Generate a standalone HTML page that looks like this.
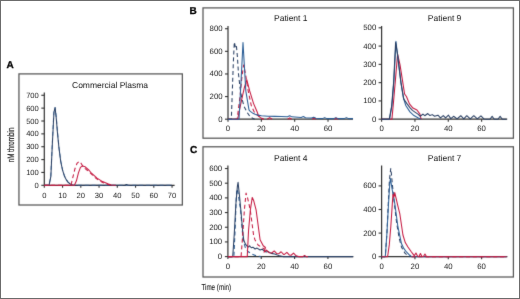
<!DOCTYPE html>
<html><head><meta charset="utf-8"><title>Thrombin generation</title>
<style>html,body{margin:0;padding:0;background:#fff;}body{width:520px;height:299px;position:relative;overflow:hidden;font-family:"Liberation Sans", sans-serif;}</style>
</head><body>
<svg width="520" height="299" viewBox="0 0 520 299" style="position:absolute;left:0;top:0"><defs><filter id="soft" x="0" y="0" width="100%" height="100%" filterUnits="userSpaceOnUse" color-interpolation-filters="sRGB"><feConvolveMatrix order="3" kernelMatrix="0.01 0.08 0.01 0.08 0.64 0.08 0.01 0.08 0.01" divisor="1" edgeMode="duplicate"/></filter><filter id="softt" x="0" y="0" width="520" height="299" filterUnits="userSpaceOnUse" color-interpolation-filters="sRGB"><feConvolveMatrix order="3" kernelMatrix="0.0025 0.045 0.0025 0.045 0.81 0.045 0.0025 0.045 0.0025" divisor="1" edgeMode="none" preserveAlpha="false"/></filter></defs><g filter="url(#soft)"><rect x="0" y="0" width="520" height="299" fill="#fff"/><rect x="18.95" y="73.9" width="163.4" height="131.1" fill="none" stroke="#555" stroke-width="1.25"/><rect x="203.0" y="7.9" width="310.4" height="130.29999999999998" fill="none" stroke="#555" stroke-width="1.25"/><rect x="203.0" y="146.8" width="310.4" height="130.2" fill="none" stroke="#555" stroke-width="1.25"/><line x1="44.30" y1="92.50" x2="44.30" y2="185.30" stroke="#303030" stroke-width="1.2"/><line x1="44.30" y1="185.30" x2="174.60" y2="185.30" stroke="#303030" stroke-width="1.2"/><line x1="41.30" y1="185.30" x2="44.30" y2="185.30" stroke="#303030" stroke-width="1.1"/><line x1="41.30" y1="172.44" x2="44.30" y2="172.44" stroke="#303030" stroke-width="1.1"/><line x1="41.30" y1="159.58" x2="44.30" y2="159.58" stroke="#303030" stroke-width="1.1"/><line x1="41.30" y1="146.72" x2="44.30" y2="146.72" stroke="#303030" stroke-width="1.1"/><line x1="41.30" y1="133.86" x2="44.30" y2="133.86" stroke="#303030" stroke-width="1.1"/><line x1="41.30" y1="121.00" x2="44.30" y2="121.00" stroke="#303030" stroke-width="1.1"/><line x1="41.30" y1="108.14" x2="44.30" y2="108.14" stroke="#303030" stroke-width="1.1"/><line x1="41.30" y1="95.28" x2="44.30" y2="95.28" stroke="#303030" stroke-width="1.1"/><line x1="44.30" y1="185.30" x2="44.30" y2="187.80" stroke="#303030" stroke-width="1.1"/><line x1="62.55" y1="185.30" x2="62.55" y2="187.80" stroke="#303030" stroke-width="1.1"/><line x1="80.80" y1="185.30" x2="80.80" y2="187.80" stroke="#303030" stroke-width="1.1"/><line x1="99.05" y1="185.30" x2="99.05" y2="187.80" stroke="#303030" stroke-width="1.1"/><line x1="117.30" y1="185.30" x2="117.30" y2="187.80" stroke="#303030" stroke-width="1.1"/><line x1="135.55" y1="185.30" x2="135.55" y2="187.80" stroke="#303030" stroke-width="1.1"/><line x1="153.80" y1="185.30" x2="153.80" y2="187.80" stroke="#303030" stroke-width="1.1"/><line x1="172.05" y1="185.30" x2="172.05" y2="187.80" stroke="#303030" stroke-width="1.1"/><path d="M44.30,185.30 L48.86,185.30 L50.69,177.58 L52.15,146.72 L53.79,113.28 L55.07,107.50 L56.16,115.86 L57.44,131.29 L58.90,146.72 L60.72,160.87 L62.55,169.87 L64.38,175.66 L66.20,179.51 L68.02,182.09 L69.85,183.76 L71.67,184.66 L73.50,185.17 L75.32,185.30 L172.05,185.30" fill="none" stroke="#5d8cbc" stroke-width="1.05" stroke-linejoin="round" stroke-dasharray="4,2.8"/><path d="M44.30,185.30 L49.04,185.30 L50.87,176.30 L52.33,144.15 L53.97,112.00 L55.07,107.50 L56.16,117.14 L57.44,132.57 L58.90,147.36 L60.72,161.51 L62.55,170.13 L64.38,175.91 L66.20,179.64 L68.02,182.09 L69.85,183.76 L71.67,184.66 L73.50,185.17 L75.32,185.30 L124.60,185.30 L126.42,184.53 L128.25,185.30 L172.05,185.30" fill="none" stroke="#283e62" stroke-width="1.05" stroke-linejoin="round"/><path d="M44.30,185.30 L70.94,185.30 L72.95,176.81 L74.96,168.71 L76.97,163.44 L79.16,161.51 L81.16,163.44 L83.17,166.78 L85.18,168.71 L89.01,171.80 L91.75,174.37 L95.40,177.84 L98.50,180.16 L102.70,182.47 L106.35,184.01 L110.00,184.91 L113.65,185.30" fill="none" stroke="#c4173f" stroke-width="1.05" stroke-linejoin="round" stroke-dasharray="4,2.8"/><path d="M44.30,185.30 L74.41,185.30 L76.42,180.80 L78.43,172.83 L80.44,167.42 L82.44,165.88 L85.18,166.78 L89.01,170.25 L91.75,173.47 L97.04,178.10 L102.52,181.57 L107.81,183.76 L111.28,184.91 L115.84,185.30" fill="none" stroke="#c4173f" stroke-width="1.05" stroke-linejoin="round"/><line x1="228.00" y1="26.00" x2="228.00" y2="119.20" stroke="#303030" stroke-width="1.2"/><line x1="228.00" y1="119.20" x2="353.00" y2="119.20" stroke="#303030" stroke-width="1.2"/><line x1="225.00" y1="119.20" x2="228.00" y2="119.20" stroke="#303030" stroke-width="1.1"/><line x1="225.00" y1="96.58" x2="228.00" y2="96.58" stroke="#303030" stroke-width="1.1"/><line x1="225.00" y1="73.96" x2="228.00" y2="73.96" stroke="#303030" stroke-width="1.1"/><line x1="225.00" y1="51.34" x2="228.00" y2="51.34" stroke="#303030" stroke-width="1.1"/><line x1="225.00" y1="28.72" x2="228.00" y2="28.72" stroke="#303030" stroke-width="1.1"/><line x1="228.00" y1="119.20" x2="228.00" y2="121.70" stroke="#303030" stroke-width="1.1"/><line x1="261.34" y1="119.20" x2="261.34" y2="121.70" stroke="#303030" stroke-width="1.1"/><line x1="294.68" y1="119.20" x2="294.68" y2="121.70" stroke="#303030" stroke-width="1.1"/><line x1="328.02" y1="119.20" x2="328.02" y2="121.70" stroke="#303030" stroke-width="1.1"/><path d="M228.00,119.20 L237.17,119.20 L240.00,96.58 L242.00,76.22 L243.67,64.91 L245.50,73.96 L248.00,89.79 L251.17,105.18 L253.84,111.28 L256.17,114.22 L258.84,116.37 L261.34,117.84 L263.84,119.20" fill="none" stroke="#c4173f" stroke-width="1.05" stroke-linejoin="round" stroke-dasharray="4,2.8"/><path d="M228.00,119.20 L237.67,119.20 L241.34,101.10 L244.34,87.53 L246.84,79.84 L249.67,90.92 L253.51,103.37 L257.17,111.96 L258.67,116.15 L260.51,117.62 L263.01,119.20" fill="none" stroke="#c4173f" stroke-width="1.05" stroke-linejoin="round"/><path d="M267.17,119.20 L269.68,117.62 L272.18,119.20" fill="none" stroke="#c4173f" stroke-width="1.05" stroke-linejoin="round"/><path d="M287.68,119.20 L289.68,117.84 L291.68,119.20" fill="none" stroke="#c4173f" stroke-width="1.05" stroke-linejoin="round"/><path d="M312.18,119.20 L314.18,118.07 L316.18,119.20" fill="none" stroke="#c4173f" stroke-width="1.05" stroke-linejoin="round"/><path d="M334.35,119.20 L336.36,118.18 L338.36,119.20" fill="none" stroke="#c4173f" stroke-width="1.05" stroke-linejoin="round"/><path d="M228.00,119.20 L231.33,119.20 L232.33,90.92 L233.33,62.65 L234.33,42.07 L235.33,46.82 L236.34,45.12 L237.34,55.86 L238.50,73.96 L240.00,87.53 L241.67,97.71 L244.17,106.65 L247.17,112.41 L250.34,117.16 L254.67,119.20" fill="none" stroke="#283e62" stroke-width="1.05" stroke-linejoin="round" stroke-dasharray="4,2.8"/><path d="M228.00,119.20 L239.00,119.20 L241.00,81.88 L243.00,42.52 L245.84,91.15 L249.00,109.93 L250.00,111.17 L253.00,113.32 L255.51,114.45 L258.01,115.13 L261.34,115.81 L268.01,116.15 L274.68,116.37 L281.34,116.49 L287.51,116.65 L289.68,115.69 L291.85,116.84 L301.18,117.41 L303.35,116.53 L305.52,117.68 L311.52,118.05 L313.68,117.16 L315.85,118.31 L322.52,118.63 L324.69,117.62 L326.85,118.63 L333.69,118.63 L335.85,117.62 L338.02,118.63 L344.19,118.63 L346.36,117.62 L348.52,118.63 L353.02,118.63" fill="none" stroke="#2a5d95" stroke-width="1.05" stroke-linejoin="round"/><line x1="381.60" y1="26.00" x2="381.60" y2="119.20" stroke="#303030" stroke-width="1.2"/><line x1="381.60" y1="119.20" x2="507.20" y2="119.20" stroke="#303030" stroke-width="1.2"/><line x1="378.60" y1="119.20" x2="381.60" y2="119.20" stroke="#303030" stroke-width="1.1"/><line x1="378.60" y1="100.92" x2="381.60" y2="100.92" stroke="#303030" stroke-width="1.1"/><line x1="378.60" y1="82.64" x2="381.60" y2="82.64" stroke="#303030" stroke-width="1.1"/><line x1="378.60" y1="64.36" x2="381.60" y2="64.36" stroke="#303030" stroke-width="1.1"/><line x1="378.60" y1="46.08" x2="381.60" y2="46.08" stroke="#303030" stroke-width="1.1"/><line x1="378.60" y1="27.80" x2="381.60" y2="27.80" stroke="#303030" stroke-width="1.1"/><line x1="381.60" y1="119.20" x2="381.60" y2="121.70" stroke="#303030" stroke-width="1.1"/><line x1="414.94" y1="119.20" x2="414.94" y2="121.70" stroke="#303030" stroke-width="1.1"/><line x1="448.28" y1="119.20" x2="448.28" y2="121.70" stroke="#303030" stroke-width="1.1"/><line x1="481.62" y1="119.20" x2="481.62" y2="121.70" stroke="#303030" stroke-width="1.1"/><path d="M381.60,119.20 L391.94,119.20 L393.60,100.92 L395.44,79.90 L397.60,54.12 L399.94,64.36 L402.44,80.08 L404.60,93.97 L406.44,96.53 L409.44,103.84 L412.94,108.05 L416.94,110.06 L419.94,114.08 L420.94,118.65 L421.61,119.20" fill="none" stroke="#c4173f" stroke-width="1.05" stroke-linejoin="round"/><path d="M381.60,119.20 L389.60,119.20 L391.94,105.31 L393.94,80.08 L395.94,41.33 L397.94,58.88 L400.94,82.64 L403.27,97.26 L405.77,105.49 L409.94,111.89 L413.94,115.54 L417.94,117.74 L420.94,119.20" fill="none" stroke="#2a5d95" stroke-width="1.05" stroke-linejoin="round"/><path d="M381.60,119.20 L389.27,119.20 L391.60,106.40 L393.60,82.64 L395.60,42.42 L397.44,53.39 L400.94,82.64 L403.77,99.09 L407.11,103.84 L410.11,107.87 L412.44,110.43 L414.94,112.07 L417.94,114.08 L420.27,116.28 L422.94,114.08 L424.78,115.73 L427.78,113.53 L429.94,115.54 L432.28,114.63 L434.61,116.28 L437.94,115.18 L440.45,117.92 L443.28,115.54 L445.61,117.92 L448.45,115.18 L450.78,118.65 L453.61,116.28 L457.12,118.83 L460.78,115.73 L463.78,118.83 L466.78,115.73 L470.28,118.83 L473.79,115.73 L477.29,118.83 L480.95,115.91 L484.12,119.02 L486.62,119.20 L489.96,119.20 L492.12,116.28 L494.29,119.20 L497.96,119.20 L500.12,116.28 L502.29,119.20 L506.62,119.20" fill="none" stroke="#283e62" stroke-width="1.05" stroke-linejoin="round"/><line x1="227.90" y1="165.50" x2="227.90" y2="256.60" stroke="#303030" stroke-width="1.2"/><line x1="227.90" y1="256.60" x2="353.40" y2="256.60" stroke="#303030" stroke-width="1.2"/><line x1="224.90" y1="256.60" x2="227.90" y2="256.60" stroke="#303030" stroke-width="1.1"/><line x1="224.90" y1="241.92" x2="227.90" y2="241.92" stroke="#303030" stroke-width="1.1"/><line x1="224.90" y1="227.24" x2="227.90" y2="227.24" stroke="#303030" stroke-width="1.1"/><line x1="224.90" y1="212.56" x2="227.90" y2="212.56" stroke="#303030" stroke-width="1.1"/><line x1="224.90" y1="197.88" x2="227.90" y2="197.88" stroke="#303030" stroke-width="1.1"/><line x1="224.90" y1="183.20" x2="227.90" y2="183.20" stroke="#303030" stroke-width="1.1"/><line x1="224.90" y1="168.52" x2="227.90" y2="168.52" stroke="#303030" stroke-width="1.1"/><line x1="227.90" y1="256.60" x2="227.90" y2="259.10" stroke="#303030" stroke-width="1.1"/><line x1="261.24" y1="256.60" x2="261.24" y2="259.10" stroke="#303030" stroke-width="1.1"/><line x1="294.58" y1="256.60" x2="294.58" y2="259.10" stroke="#303030" stroke-width="1.1"/><line x1="327.92" y1="256.60" x2="327.92" y2="259.10" stroke="#303030" stroke-width="1.1"/><path d="M227.90,256.60 L233.90,256.60 L235.23,227.24 L236.24,197.88 L236.90,189.07 L237.90,192.01 L240.57,209.77 L243.07,239.86 L245.40,247.79 L247.90,251.46 L251.24,253.66 L256.24,255.87 L261.24,256.60" fill="none" stroke="#2a5d95" stroke-width="1.05" stroke-linejoin="round" stroke-dasharray="4,2.8"/><path d="M227.90,256.60 L232.73,256.60 L234.23,234.58 L235.90,203.75 L237.40,186.14 L238.07,182.32 L239.40,194.94 L241.07,212.56 L242.57,230.18 L243.74,240.01 L245.40,244.12 L247.07,246.03 L248.57,247.06 L249.57,245.74 L251.24,247.79 L252.91,247.20 L255.07,248.97 L257.07,248.09 L260.07,249.99 L262.07,249.26 L266.07,252.05 L267.91,251.46 L271.24,253.37 L274.58,253.96 L279.58,255.87 L282.91,256.60 L352.93,256.60" fill="none" stroke="#283e62" stroke-width="1.05" stroke-linejoin="round"/><path d="M227.90,256.60 L241.07,256.60 L242.74,234.58 L244.40,209.62 L246.07,193.04 L247.57,197.88 L250.24,209.77 L253.57,235.02 L254.91,239.72 L258.07,245.00 L261.24,247.06 L264.57,249.26" fill="none" stroke="#c4173f" stroke-width="1.05" stroke-linejoin="round" stroke-dasharray="4,2.8"/><path d="M227.90,256.60 L247.24,256.60 L248.57,230.18 L250.40,209.77 L252.24,197.44 L253.74,200.82 L256.07,209.77 L260.07,239.72 L263.24,245.74 L265.41,247.50 L264.07,252.14 L266.57,250.08 L269.07,252.71 L271.74,253.02 L274.24,250.95 L276.74,253.59 L278.58,253.80 L281.08,251.74 L283.58,254.37 L284.41,254.47 L286.91,252.40 L289.41,255.04 L291.08,255.23 L293.58,253.17 L296.08,255.80 L298.58,256.60 L302.92,256.60 L304.58,255.43 L306.25,256.60 L307.92,256.60" fill="none" stroke="#c4173f" stroke-width="1.05" stroke-linejoin="round"/><line x1="381.60" y1="165.40" x2="381.60" y2="256.70" stroke="#303030" stroke-width="1.2"/><line x1="381.60" y1="256.70" x2="507.40" y2="256.70" stroke="#303030" stroke-width="1.2"/><line x1="378.60" y1="256.70" x2="381.60" y2="256.70" stroke="#303030" stroke-width="1.1"/><line x1="378.60" y1="233.10" x2="381.60" y2="233.10" stroke="#303030" stroke-width="1.1"/><line x1="378.60" y1="209.50" x2="381.60" y2="209.50" stroke="#303030" stroke-width="1.1"/><line x1="378.60" y1="185.90" x2="381.60" y2="185.90" stroke="#303030" stroke-width="1.1"/><line x1="381.60" y1="256.70" x2="381.60" y2="259.20" stroke="#303030" stroke-width="1.1"/><line x1="414.94" y1="256.70" x2="414.94" y2="259.20" stroke="#303030" stroke-width="1.1"/><line x1="448.28" y1="256.70" x2="448.28" y2="259.20" stroke="#303030" stroke-width="1.1"/><line x1="481.62" y1="256.70" x2="481.62" y2="259.20" stroke="#303030" stroke-width="1.1"/><path d="M381.60,256.70 L385.27,256.70 L386.93,233.10 L388.27,203.60 L389.43,180.00 L390.77,168.44 L391.44,174.10 L392.27,183.54 L394.10,201.24 L396.60,222.48 L399.10,237.82 L401.60,247.26 L404.94,253.16 L408.27,256.11 L409.94,256.70" fill="none" stroke="#283e62" stroke-width="1.05" stroke-linejoin="round" stroke-dasharray="4,2.8"/><path d="M381.60,256.70 L384.93,256.70 L385.43,255.28 L386.93,233.10 L388.60,202.42 L389.77,183.54 L390.44,178.47 L391.94,188.26 L394.77,203.48 L397.94,226.96 L401.44,243.60 L403.77,248.44 L406.44,251.98 L409.77,255.28 L411.61,256.70 L506.62,256.70" fill="none" stroke="#2a5d95" stroke-width="1.05" stroke-linejoin="round"/><path d="M381.60,256.70 L387.60,256.70 L389.27,244.90 L390.77,226.96 L392.10,207.14 L392.94,194.16 L393.94,197.11 L394.77,192.63 L395.94,197.70 L397.60,204.78 L399.77,213.51 L402.94,234.99 L405.27,242.54 L407.94,247.02 L411.44,251.98 L413.27,254.34 L414.27,255.76 L415.94,253.04 L417.61,256.23 L418.94,256.46 L420.44,253.51 L421.94,256.46 L423.44,256.46 L424.94,253.99 L426.61,256.70 L506.62,256.70" fill="none" stroke="#c4173f" stroke-width="1.05" stroke-linejoin="round"/><path d="M411.61,256.70 L506.62,256.70" fill="none" stroke="#c4173f" stroke-width="1.05" stroke-linejoin="round" stroke-dasharray="4,2.8"/></g><g filter="url(#softt)" text-rendering="geometricPrecision"><text x="6.60" y="68.20" font-family='"Liberation Sans", sans-serif' font-size="10" font-weight="bold" text-anchor="start" fill="#000" stroke="#000" stroke-width="0.3" >A</text><text x="189.60" y="14.10" font-family='"Liberation Sans", sans-serif' font-size="10" font-weight="bold" text-anchor="start" fill="#000" stroke="#000" stroke-width="0.3" >B</text><text x="189.90" y="153.40" font-family='"Liberation Sans", sans-serif' font-size="10" font-weight="bold" text-anchor="start" fill="#000" stroke="#000" stroke-width="0.3" >C</text><text x="72.00" y="87.70" font-family='"Liberation Sans", sans-serif' font-size="8.5" font-weight="normal" text-anchor="start" fill="#111" >Commercial Plasma</text><text x="274.00" y="20.70" font-family='"Liberation Sans", sans-serif' font-size="8.5" font-weight="normal" text-anchor="start" fill="#111" >Patient 1</text><text x="427.80" y="20.70" font-family='"Liberation Sans", sans-serif' font-size="8.5" font-weight="normal" text-anchor="start" fill="#111" >Patient 9</text><text x="274.00" y="160.80" font-family='"Liberation Sans", sans-serif' font-size="8.5" font-weight="normal" text-anchor="start" fill="#111" >Patient 4</text><text x="427.80" y="160.80" font-family='"Liberation Sans", sans-serif' font-size="8.5" font-weight="normal" text-anchor="start" fill="#111" >Patient 7</text><text font-family='"Liberation Sans", sans-serif' font-size="8.6" fill="#1e1e1e" stroke="#1e1e1e" stroke-width="0.12" transform="translate(201.4,290.3) scale(0.73,1)">Time (min)</text><text font-family='"Liberation Sans", sans-serif' font-size="9.4" fill="#1e1e1e" stroke="#1e1e1e" stroke-width="0.2" transform="translate(13.8,162.3) rotate(-90) scale(0.665,1)">nM thrombin</text><text x="38.80" y="187.80" font-family='"Liberation Sans", sans-serif' font-size="7.6" font-weight="normal" text-anchor="end" fill="#1c1c1c" >0</text><text x="38.80" y="174.94" font-family='"Liberation Sans", sans-serif' font-size="7.6" font-weight="normal" text-anchor="end" fill="#1c1c1c" >100</text><text x="38.80" y="162.08" font-family='"Liberation Sans", sans-serif' font-size="7.6" font-weight="normal" text-anchor="end" fill="#1c1c1c" >200</text><text x="38.80" y="149.22" font-family='"Liberation Sans", sans-serif' font-size="7.6" font-weight="normal" text-anchor="end" fill="#1c1c1c" >300</text><text x="38.80" y="136.36" font-family='"Liberation Sans", sans-serif' font-size="7.6" font-weight="normal" text-anchor="end" fill="#1c1c1c" >400</text><text x="38.80" y="123.50" font-family='"Liberation Sans", sans-serif' font-size="7.6" font-weight="normal" text-anchor="end" fill="#1c1c1c" >500</text><text x="38.80" y="110.64" font-family='"Liberation Sans", sans-serif' font-size="7.6" font-weight="normal" text-anchor="end" fill="#1c1c1c" >600</text><text x="38.80" y="97.78" font-family='"Liberation Sans", sans-serif' font-size="7.6" font-weight="normal" text-anchor="end" fill="#1c1c1c" >700</text><text x="44.30" y="197.70" font-family='"Liberation Sans", sans-serif' font-size="7.6" font-weight="normal" text-anchor="middle" fill="#1c1c1c" >0</text><text x="62.55" y="197.70" font-family='"Liberation Sans", sans-serif' font-size="7.6" font-weight="normal" text-anchor="middle" fill="#1c1c1c" >10</text><text x="80.80" y="197.70" font-family='"Liberation Sans", sans-serif' font-size="7.6" font-weight="normal" text-anchor="middle" fill="#1c1c1c" >20</text><text x="99.05" y="197.70" font-family='"Liberation Sans", sans-serif' font-size="7.6" font-weight="normal" text-anchor="middle" fill="#1c1c1c" >30</text><text x="117.30" y="197.70" font-family='"Liberation Sans", sans-serif' font-size="7.6" font-weight="normal" text-anchor="middle" fill="#1c1c1c" >40</text><text x="135.55" y="197.70" font-family='"Liberation Sans", sans-serif' font-size="7.6" font-weight="normal" text-anchor="middle" fill="#1c1c1c" >50</text><text x="153.80" y="197.70" font-family='"Liberation Sans", sans-serif' font-size="7.6" font-weight="normal" text-anchor="middle" fill="#1c1c1c" >60</text><text x="172.05" y="197.70" font-family='"Liberation Sans", sans-serif' font-size="7.6" font-weight="normal" text-anchor="middle" fill="#1c1c1c" >70</text><text x="222.60" y="121.70" font-family='"Liberation Sans", sans-serif' font-size="7.8" font-weight="normal" text-anchor="end" fill="#1c1c1c" >0</text><text x="222.60" y="99.08" font-family='"Liberation Sans", sans-serif' font-size="7.8" font-weight="normal" text-anchor="end" fill="#1c1c1c" >200</text><text x="222.60" y="76.46" font-family='"Liberation Sans", sans-serif' font-size="7.8" font-weight="normal" text-anchor="end" fill="#1c1c1c" >400</text><text x="222.60" y="53.84" font-family='"Liberation Sans", sans-serif' font-size="7.8" font-weight="normal" text-anchor="end" fill="#1c1c1c" >600</text><text x="222.60" y="31.22" font-family='"Liberation Sans", sans-serif' font-size="7.8" font-weight="normal" text-anchor="end" fill="#1c1c1c" >800</text><text x="228.00" y="131.40" font-family='"Liberation Sans", sans-serif' font-size="7.8" font-weight="normal" text-anchor="middle" fill="#1c1c1c" >0</text><text x="261.34" y="131.40" font-family='"Liberation Sans", sans-serif' font-size="7.8" font-weight="normal" text-anchor="middle" fill="#1c1c1c" >20</text><text x="294.68" y="131.40" font-family='"Liberation Sans", sans-serif' font-size="7.8" font-weight="normal" text-anchor="middle" fill="#1c1c1c" >40</text><text x="328.02" y="131.40" font-family='"Liberation Sans", sans-serif' font-size="7.8" font-weight="normal" text-anchor="middle" fill="#1c1c1c" >60</text><text x="376.30" y="121.70" font-family='"Liberation Sans", sans-serif' font-size="7.8" font-weight="normal" text-anchor="end" fill="#1c1c1c" >0</text><text x="376.30" y="103.42" font-family='"Liberation Sans", sans-serif' font-size="7.8" font-weight="normal" text-anchor="end" fill="#1c1c1c" >100</text><text x="376.30" y="85.14" font-family='"Liberation Sans", sans-serif' font-size="7.8" font-weight="normal" text-anchor="end" fill="#1c1c1c" >200</text><text x="376.30" y="66.86" font-family='"Liberation Sans", sans-serif' font-size="7.8" font-weight="normal" text-anchor="end" fill="#1c1c1c" >300</text><text x="376.30" y="48.58" font-family='"Liberation Sans", sans-serif' font-size="7.8" font-weight="normal" text-anchor="end" fill="#1c1c1c" >400</text><text x="376.30" y="30.30" font-family='"Liberation Sans", sans-serif' font-size="7.8" font-weight="normal" text-anchor="end" fill="#1c1c1c" >500</text><text x="381.60" y="131.40" font-family='"Liberation Sans", sans-serif' font-size="7.8" font-weight="normal" text-anchor="middle" fill="#1c1c1c" >0</text><text x="414.94" y="131.40" font-family='"Liberation Sans", sans-serif' font-size="7.8" font-weight="normal" text-anchor="middle" fill="#1c1c1c" >20</text><text x="448.28" y="131.40" font-family='"Liberation Sans", sans-serif' font-size="7.8" font-weight="normal" text-anchor="middle" fill="#1c1c1c" >40</text><text x="481.62" y="131.40" font-family='"Liberation Sans", sans-serif' font-size="7.8" font-weight="normal" text-anchor="middle" fill="#1c1c1c" >60</text><text x="222.20" y="259.10" font-family='"Liberation Sans", sans-serif' font-size="7.8" font-weight="normal" text-anchor="end" fill="#1c1c1c" >0</text><text x="222.20" y="244.42" font-family='"Liberation Sans", sans-serif' font-size="7.8" font-weight="normal" text-anchor="end" fill="#1c1c1c" >100</text><text x="222.20" y="229.74" font-family='"Liberation Sans", sans-serif' font-size="7.8" font-weight="normal" text-anchor="end" fill="#1c1c1c" >200</text><text x="222.20" y="215.06" font-family='"Liberation Sans", sans-serif' font-size="7.8" font-weight="normal" text-anchor="end" fill="#1c1c1c" >300</text><text x="222.20" y="200.38" font-family='"Liberation Sans", sans-serif' font-size="7.8" font-weight="normal" text-anchor="end" fill="#1c1c1c" >400</text><text x="222.20" y="185.70" font-family='"Liberation Sans", sans-serif' font-size="7.8" font-weight="normal" text-anchor="end" fill="#1c1c1c" >500</text><text x="222.20" y="171.02" font-family='"Liberation Sans", sans-serif' font-size="7.8" font-weight="normal" text-anchor="end" fill="#1c1c1c" >600</text><text x="227.90" y="269.40" font-family='"Liberation Sans", sans-serif' font-size="7.8" font-weight="normal" text-anchor="middle" fill="#1c1c1c" >0</text><text x="261.24" y="269.40" font-family='"Liberation Sans", sans-serif' font-size="7.8" font-weight="normal" text-anchor="middle" fill="#1c1c1c" >20</text><text x="294.58" y="269.40" font-family='"Liberation Sans", sans-serif' font-size="7.8" font-weight="normal" text-anchor="middle" fill="#1c1c1c" >40</text><text x="327.92" y="269.40" font-family='"Liberation Sans", sans-serif' font-size="7.8" font-weight="normal" text-anchor="middle" fill="#1c1c1c" >60</text><text x="376.30" y="259.20" font-family='"Liberation Sans", sans-serif' font-size="7.8" font-weight="normal" text-anchor="end" fill="#1c1c1c" >0</text><text x="376.30" y="235.60" font-family='"Liberation Sans", sans-serif' font-size="7.8" font-weight="normal" text-anchor="end" fill="#1c1c1c" >200</text><text x="376.30" y="212.00" font-family='"Liberation Sans", sans-serif' font-size="7.8" font-weight="normal" text-anchor="end" fill="#1c1c1c" >400</text><text x="376.30" y="188.40" font-family='"Liberation Sans", sans-serif' font-size="7.8" font-weight="normal" text-anchor="end" fill="#1c1c1c" >600</text><text x="381.60" y="269.40" font-family='"Liberation Sans", sans-serif' font-size="7.8" font-weight="normal" text-anchor="middle" fill="#1c1c1c" >0</text><text x="414.94" y="269.40" font-family='"Liberation Sans", sans-serif' font-size="7.8" font-weight="normal" text-anchor="middle" fill="#1c1c1c" >20</text><text x="448.28" y="269.40" font-family='"Liberation Sans", sans-serif' font-size="7.8" font-weight="normal" text-anchor="middle" fill="#1c1c1c" >40</text><text x="481.62" y="269.40" font-family='"Liberation Sans", sans-serif' font-size="7.8" font-weight="normal" text-anchor="middle" fill="#1c1c1c" >60</text></g><rect x="0" y="0" width="1" height="299" fill="#6b6b6b"/><rect x="0" y="0" width="520" height="1" fill="#6b6b6b"/><rect x="519" y="0" width="1" height="299" fill="#6b6b6b"/><rect x="0" y="298" width="520" height="1" fill="#6b6b6b"/></svg>
</body></html>
